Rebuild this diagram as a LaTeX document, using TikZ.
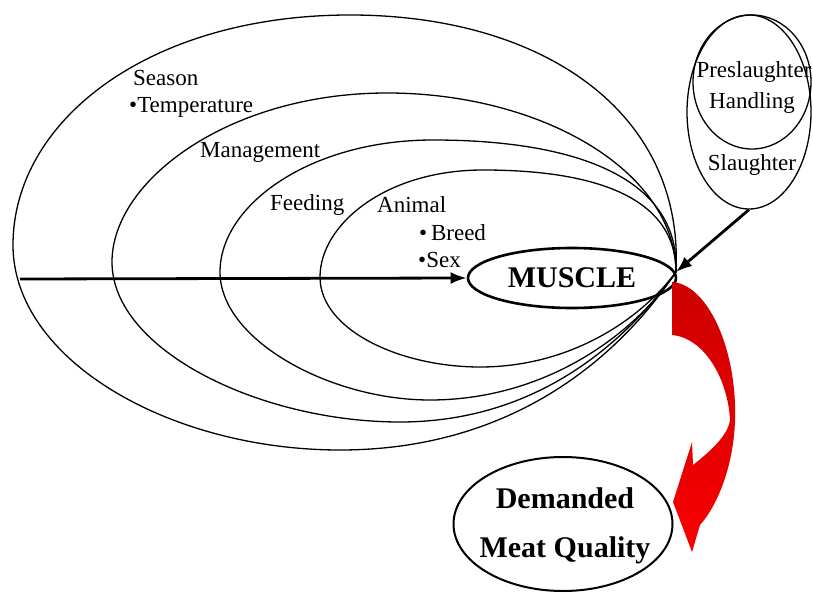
\documentclass[tikz,border=0pt]{standalone}
\usepackage{fontspec}
\setmainfont{Liberation Serif}
\usetikzlibrary{shapes.geometric,arrows.meta}
\definecolor{redtop}{RGB}{205,0,0}
\definecolor{redbottom}{RGB}{250,0,0}
\tikzset{
  loopline/.style={draw=black,line width=1.3pt},
  lab/.style={inner sep=0pt,anchor=west,font=\fontsize{23}{27}\selectfont},
  clab/.style={inner sep=0pt,font=\fontsize{23}{27}\selectfont},
  bigell/.style={draw=black,ellipse,inner sep=0pt},
  heavyarrow/.style={line width=2.8pt,-{Latex[length=16pt,width=12pt]}},
}
\begin{document}
\begin{tikzpicture}[x=1pt,y=-1pt]
\useasboundingbox (0,0) rectangle (813,593);
\coordinate (P) at (676,272);
\coordinate (start) at (20,279);
% nested loops
\draw[loopline] (P) .. controls (684,110) and (540,15) .. (350,15) .. controls (150,15) and (13,120) .. (13,245) .. controls (13,360) and (170,450) .. (340,450) .. controls (500,450) and (610,370) .. (P);
\draw[loopline] (P) .. controls (675,170) and (540,93) .. (387,93) .. controls (230,93) and (112,180) .. (112,262) .. controls (112,350) and (260,422) .. (400,422) .. controls (530,422) and (620,350) .. (P);
\draw[loopline] (P) .. controls (680,175) and (570,140) .. (433,140) .. controls (310,140) and (220,205) .. (220,272) .. controls (220,340) and (330,400) .. (430,400) .. controls (540,400) and (630,340) .. (P);
\draw[loopline] (P) .. controls (676,195) and (590,170) .. (483,170) .. controls (385,170) and (320,225) .. (320,277) .. controls (320,330) and (400,367) .. (480,367) .. controls (570,367) and (640,320) .. (P);
% labels
\node[lab] (season) at (133,78) {Season};
\node[lab] (temp) at (129,107) {•Temperature};
\node[lab] (mgmt) at (200,152) {Management};
\node[lab] (feed) at (270,205) {Feeding};
\node[lab] (animal) at (377,205) {Animal};
\node[lab] (breed) at (419,233) {•\,Breed};
\node[lab] (sex) at (418,260) {•Sex};
% muscle
\node[bigell,line width=2.6pt,minimum width=208pt,minimum height=60pt,font=\fontsize{30}{36}\selectfont\bfseries] (mus) at (572,278) {MUSCLE};
\draw[heavyarrow] (start) -- (mus.west);
% slaughter ellipses
\node[bigell,line width=1.3pt,minimum width=124pt,minimum height=194pt] (slo) at (749,112) {};
\node[bigell,line width=1.3pt,minimum width=118pt,minimum height=134pt] (pre) at (752,82) {};
\node[clab] (pretxt) at (754,72) {Preslaughter};
\node[clab] (handtxt) at (752,103) {Handling};
\node[clab] (slotxt) at (752,165) {Slaughter};
\draw[heavyarrow] (slo.south) -- (P);
% demanded meat quality
\node[bigell,line width=2pt,minimum width=219pt,minimum height=134pt] (dmq) at (563,524) {};
\node[inner sep=0pt,align=center,font=\fontsize{30}{49}\selectfont\bfseries] (dmqtxt) at (565,526) {Demanded\\Meat Quality};
% red curved arrow
\shade[top color=redtop,bottom color=redbottom] (672,282) .. controls (705,284) and (733,340) .. (735,405)
  .. controls (737,460) and (718,505) .. (700,525) -- (692,552) -- (673,502) -- (692,442) -- (693,465)
  .. controls (712,450) and (728,435) .. (730,420)
  .. controls (728,380) and (705,338) .. (672,335) -- cycle;
\end{tikzpicture}
\end{document}
